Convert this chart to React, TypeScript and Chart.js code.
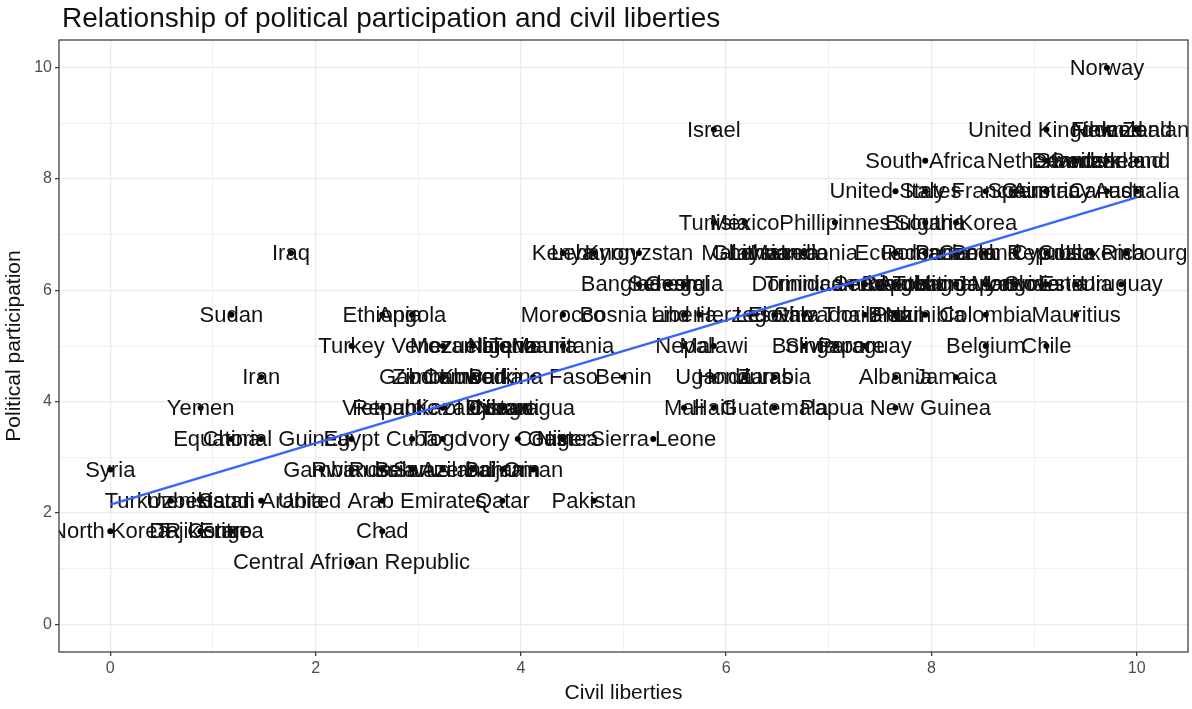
import React, { useEffect, useRef } from 'react';
import { Chart, registerables } from 'chart.js';

Chart.register(...registerables);

const chartTitle = 'Relationship of political participation and civil liberties';
const xAxisTitle = 'Civil liberties';
const yAxisTitle = 'Political participation';

const countries = [
  'Norway',
  'Israel', 'United Kingdom', 'Finland', 'Iceland', 'New Zealand',
  'South Africa', 'Netherlands', 'Denmark', 'Sweden', 'Switzerland', 'Ireland',
  'United States', 'Italy', 'France', 'Spain', 'Austria', 'Germany', 'Canada', 'Australia',
  'Tunisia', 'Mexico', 'Phillipinnes', 'Bulgaria', 'South Korea',
  'Iraq', 'Kenya', 'Lebanon', 'Kyrgyzstan', 'Malaysia', 'Ghana', 'Lithuania', 'India', 'Macedonia', 'Ecuador', 'Romania', 'Panama', 'Poland', 'Czech Republic', 'Cyprus', 'Costa Rica', 'Luxembourg',
  'Bangladesh', 'Senegal', 'Georgia', 'Dominican Republic', 'Trinidad and Tobago', 'Serbia', 'Croatia', 'Argentina', 'Hungary', 'Japan', 'Mongolia', 'Latvia', 'Slovenia', 'Estonia', 'Uruguay',
  'Sudan', 'Ethiopia', 'Angola', 'Morocco', 'Liberia', 'Bosnia and Herzegovina', 'Lesotho', 'El Salvador', 'Thailand', 'Brazil', 'Peru', 'Namibia', 'Colombia', 'Mauritius',
  'Turkey', 'Venezuela', 'Mozambique', 'Nigeria', 'Tanzania', 'Mauritania', 'Nepal', 'Malawi', 'Bolivia', 'Singapore', 'Paraguay', 'Belgium', 'Chile',
  'Iran', 'Gabon', 'Zimbabwe', 'Kuwait', 'Cambodia', 'Burkina Faso', 'Benin', 'Uganda', 'Honduras', 'Zambia', 'Albania', 'Jamaica',
  'Yemen', 'Vietnam', 'Republic of Congo', 'Kazakhstan', 'Djibouti', 'Nicaragua', 'Mali', 'Haiti', 'Guatemala', 'Papua New Guinea',
  'China', 'Equatorial Guinea', 'Egypt', 'Cuba', 'Togo', 'Ivory Coast', 'Niger', 'Guinea', 'Sierra Leone',
  'Syria', 'Gambia', 'Rwanda', 'Russia', 'Belarus', 'Swaziland', 'Azerbaijan', 'Bahrain', 'Oman',
  'Turkmenistan', 'Uzbekistan', 'Saudi Arabia', 'United Arab Emirates', 'Qatar', 'Pakistan',
  'North Korea', 'DR Congo', 'Tajikistan', 'Eritrea', 'Chad',
  'Central African Republic',
];

const civilLiberties = [
  9.71,
  5.88, 9.12, 9.71, 10, 10,
  7.94, 9.12, 9.41, 9.41, 9.71, 10,
  7.65, 7.94, 8.53, 8.82, 9.12, 9.12, 9.71, 10,
  5.88, 6.18, 7.06, 7.94, 8.24,
  1.76, 4.41, 4.71, 5.15, 6.18, 6.18, 6.47, 6.76, 6.76, 7.65, 7.94, 8.24, 8.53, 8.82, 9.12, 9.56, 9.9,
  5.15, 5.44, 5.59, 7.2, 7.35, 7.35, 7.65, 7.94, 8.24, 8.53, 8.82, 8.82, 9.12, 9.41, 9.85,
  1.18, 2.65, 2.94, 4.41, 5.59, 5.74, 6.47, 6.76, 7.35, 7.65, 7.65, 7.94, 8.53, 9.41,
  2.35, 3.24, 3.53, 3.82, 4.12, 4.41, 5.59, 5.88, 6.76, 7.06, 7.35, 8.53, 9.12,
  1.47, 2.94, 3.24, 3.53, 3.53, 4.12, 5.0, 5.88, 6.18, 6.47, 7.65, 8.24,
  0.88, 2.65, 3.24, 3.53, 3.82, 4.04, 5.59, 5.88, 6.47, 7.65,
  1.18, 1.47, 2.35, 2.94, 3.24, 3.97, 4.41, 4.41, 5.29,
  0, 2.06, 2.35, 2.65, 2.94, 3.24, 3.53, 3.82, 4.12,
  0.59, 0.88, 1.47, 2.65, 3.82, 4.71,
  0, 0.88, 0.88, 1.18, 2.65,
  2.35,
];

const politicalParticipation = [
  10,
  8.89, 8.89, 8.89, 8.89, 8.89,
  8.33, 8.33, 8.33, 8.33, 8.33, 8.33,
  7.78, 7.78, 7.78, 7.78, 7.78, 7.78, 7.78, 7.78,
  7.22, 7.22, 7.22, 7.22, 7.22,
  6.67, 6.67, 6.67, 6.67, 6.67, 6.67, 6.67, 6.67, 6.67, 6.67, 6.67, 6.67, 6.67, 6.67, 6.67, 6.67, 6.67,
  6.11, 6.11, 6.11, 6.11, 6.11, 6.11, 6.11, 6.11, 6.11, 6.11, 6.11, 6.11, 6.11, 6.11, 6.11,
  5.56, 5.56, 5.56, 5.56, 5.56, 5.56, 5.56, 5.56, 5.56, 5.56, 5.56, 5.56, 5.56, 5.56,
  5.0, 5.0, 5.0, 5.0, 5.0, 5.0, 5.0, 5.0, 5.0, 5.0, 5.0, 5.0, 5.0,
  4.44, 4.44, 4.44, 4.44, 4.44, 4.44, 4.44, 4.44, 4.44, 4.44, 4.44, 4.44,
  3.89, 3.89, 3.89, 3.89, 3.89, 3.89, 3.89, 3.89, 3.89, 3.89,
  3.33, 3.33, 3.33, 3.33, 3.33, 3.33, 3.33, 3.33, 3.33,
  2.78, 2.78, 2.78, 2.78, 2.78, 2.78, 2.78, 2.78, 2.78,
  2.22, 2.22, 2.22, 2.22, 2.22, 2.22,
  1.67, 1.67, 1.67, 1.67, 1.67,
  1.11,
];

// Fitted (lm) line endpoints
const fitCivilLiberties = [0, 10];
const fitPoliticalParticipation = [2.15, 7.67];

const gridValues = [0, 1, 2, 3, 4, 5, 6, 7, 8, 9, 10];
const labelledTicks = [0, 2, 4, 6, 8, 10];

const FONT = '"Liberation Sans", Arial, sans-serif';

const labelPlugin = {
  id: 'countryLabels',
  afterDatasetDraw(chart: any, args: any) {
    if (args.index !== 1) return;
    const { ctx, chartArea } = chart;
    const meta = chart.getDatasetMeta(1);
    ctx.save();
    ctx.beginPath();
    ctx.rect(chartArea.left, chartArea.top, chartArea.right - chartArea.left, chartArea.bottom - chartArea.top);
    ctx.clip();
    ctx.font = `22px ${FONT}`;
    ctx.fillStyle = '#111111';
    ctx.textAlign = 'center';
    ctx.textBaseline = 'middle';
    meta.data.forEach((el: any, i: number) => {
      ctx.fillText(countries[i], el.x, el.y + 1);
    });
    ctx.restore();
  },
};

const borderPlugin = {
  id: 'panelBorder',
  afterDraw(chart: any) {
    const { ctx, chartArea } = chart;
    ctx.save();
    ctx.strokeStyle = '#333333';
    ctx.lineWidth = 1.2;
    ctx.strokeRect(chartArea.left, chartArea.top, chartArea.right - chartArea.left, chartArea.bottom - chartArea.top);
    ctx.restore();
  },
};

const isMajor = (v: number) => labelledTicks.includes(v);

function axisOptions(title: string, isX: boolean) {
  return {
    type: 'linear' as const,
    min: -0.5,
    max: 10.5,
    afterBuildTicks: (scale: any) => {
      scale.ticks = gridValues.map((v) => ({ value: v }));
    },
    afterFit: (scale: any) => {
      if (isX) scale.height = 57;
      else scale.width = 59;
    },
    border: { display: false },
    grid: {
      color: '#EBEBEB',
      lineWidth: (c: any) => (c.tick && isMajor(c.tick.value) ? 1.3 : 0.7),
      drawTicks: true,
      tickLength: 4,
      tickColor: (c: any) => (c.tick && isMajor(c.tick.value) ? '#333333' : 'rgba(0,0,0,0)'),
      tickWidth: 1.2,
    },
    ticks: {
      autoSkip: false,
      maxRotation: 0,
      padding: 3,
      color: '#4D4D4D',
      font: { family: FONT, size: 16 },
      callback: (v: any) => (isMajor(Number(v)) ? String(v) : ''),
    },
    title: {
      display: true,
      text: title,
      color: '#111111',
      font: { family: FONT, size: 21 },
      padding: isX ? { top: 0, bottom: 3 } : { top: 2, bottom: 0 },
    },
  };
}

export default function App() {
  const canvasRef = useRef<HTMLCanvasElement | null>(null);

  useEffect(() => {
    if (!canvasRef.current) return;
    const points = civilLiberties.map((x, i) => ({ x, y: politicalParticipation[i] }));
    const fit = fitCivilLiberties.map((x, i) => ({ x, y: fitPoliticalParticipation[i] }));
    const chart = new Chart(canvasRef.current, {
      type: 'scatter',
      data: {
        datasets: [
          {
            type: 'line',
            label: 'Linear fit',
            data: fit,
            showLine: true,
            borderColor: '#3366FF',
            borderWidth: 2.4,
            pointRadius: 0,
            fill: false,
          } as any,
          {
            label: 'Countries',
            data: points,
            pointRadius: 3,
            pointBackgroundColor: '#000000',
            pointBorderWidth: 0,
            backgroundColor: '#000000',
          },
        ],
      },
      options: {
        responsive: false,
        animation: false,
        devicePixelRatio: 1,
        layout: { padding: { top: 40, right: 3, bottom: 0, left: 0 } },
        plugins: {
          legend: { display: false },
          tooltip: { enabled: false },
          title: { display: false },
        },
        scales: {
          x: axisOptions(xAxisTitle, true) as any,
          y: axisOptions(yAxisTitle, false) as any,
        },
      },
      plugins: [labelPlugin, borderPlugin],
    });
    return () => chart.destroy();
  }, []);

  return (
    <div style={{ position: 'absolute', left: 0, top: 0, width: 1192, height: 709, background: '#ffffff' }}>
      <div
        style={{
          position: 'absolute',
          left: 62,
          top: 3,
          fontFamily: FONT,
          fontSize: 28,
          lineHeight: '30px',
          color: '#111111',
          whiteSpace: 'nowrap',
        }}
      >
        {chartTitle}
      </div>
      <canvas ref={canvasRef} width={1192} height={709} style={{ display: 'block', width: 1192, height: 709 }} />
    </div>
  );
}
